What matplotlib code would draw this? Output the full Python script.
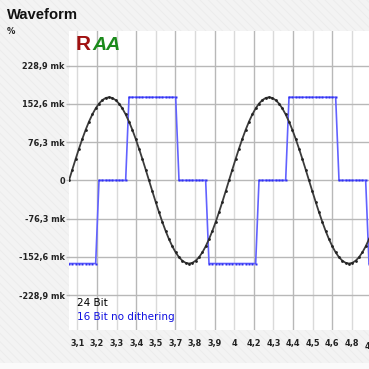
import numpy as np
import matplotlib
matplotlib.use("Agg")
from matplotlib import pyplot as plt
from matplotlib.patches import Rectangle

# sample data, 1 kHz tone sampled at 48 kHz, starting at 3.0 ms
t_start = 3.0
fs_khz = 48.0
wave_24bit = [
    0, 21.7, 43.0, 63.5, 83.0, 101.1, 117.4, 131.7, 143.8, 153.4, 160.3, 164.6,
    166.0, 164.6, 160.3, 153.4, 143.8, 131.7, 117.4, 101.1, 83.0, 63.5, 43.0, 21.7,
    0, -21.7, -43.0, -63.5, -83.0, -101.1, -117.4, -131.7, -143.8, -153.4, -160.3, -164.6,
    -166.0, -164.6, -160.3, -153.4, -143.8, -131.7, -117.4, -101.1, -83.0, -63.5, -43.0, -21.7,
    0, 21.7, 43.0, 63.5, 83.0, 101.1, 117.4, 131.7, 143.8, 153.4, 160.3, 164.6,
    166.0, 164.6, 160.3, 153.4, 143.8, 131.7, 117.4, 101.1, 83.0, 63.5, 43.0, 21.7,
    0, -21.7, -43.0, -63.5, -83.0, -101.1, -117.4, -131.7, -143.8, -153.4, -160.3, -164.6,
    -166.0, -164.6, -160.3, -153.4, -143.8, -131.7, -117.4, -101.1,
]
wave_16bit = [
    -166, -166, -166, -166, -166, -166, -166, -166, -166,
    0, 0, 0, 0, 0, 0, 0, 0, 0,
    166, 166, 166, 166, 166, 166, 166, 166, 166, 166, 166, 166, 166, 166, 166,
    0, 0, 0, 0, 0, 0, 0, 0, 0,
    -166, -166, -166, -166, -166, -166, -166, -166, -166, -166, -166, -166, -166, -166, -166,
    0, 0, 0, 0, 0, 0, 0, 0, 0,
    166, 166, 166, 166, 166, 166, 166, 166, 166, 166, 166, 166, 166, 166, 166,
    0, 0, 0, 0, 0, 0, 0, 0, 0,
    -166, -166,
]

y_ticks = [228.9, 152.6, 76.3, 0, -76.3, -152.6, -228.9]
y_labels = ["228,9 mk", "152,6 mk", "76,3 mk", "0", "-76,3 mk", "-152,6 mk", "-228,9 mk"]
x_labels = ["3,1", "3,2", "3,3", "3,4", "3,5", "3,7", "3,8", "3,9", "4",
            "4,2", "4,3", "4,4", "4,5", "4,6", "4,8", "4,9"]
x_tick0 = 3.053
x_step = 0.1225

t = t_start + np.arange(len(wave_24bit)) / fs_khz
x_ticks = x_tick0 + x_step * np.arange(len(x_labels))

W = H = 369
plt.rcParams['hatch.linewidth'] = 0.6
fig = plt.figure(figsize=(W / 100, H / 100), dpi=100)
fig.patch.set_facecolor('#f3f3f3')
fig.patches.append(Rectangle((0, 0), 1, 1, transform=fig.transFigure,
                             facecolor='#f3f3f3', edgecolor='#ebebeb',
                             hatch='\\\\\\\\', lw=0, zorder=-10))
fig.patches.append(Rectangle((0, 0), 1, 6 / H, transform=fig.transFigure,
                             facecolor='#fafafa', lw=0, zorder=-9))

ax = fig.add_axes([69 / W, (H - 330) / H, 300 / W, 299 / H])
ax.set_facecolor('white')
for s in ax.spines.values():
    s.set_visible(False)

ax.set_xlim(3.0, 4.875)
ax.set_ylim(-298.7, 298.3)

# grid: vertical lines alternate light / dark
for i, xt in enumerate(x_ticks):
    ax.axvline(xt, color='#dadada' if i % 2 == 0 else '#b8b8b8', lw=1, zorder=0)
for yt in y_ticks:
    ax.axhline(yt, color='#b8b8b8', lw=1, zorder=0)

ax.plot(t, wave_16bit, color='#6262ff', lw=1.2, zorder=2,
        marker='s', ms=1.6, mfc='#3030f0', mec='none')
ax.plot(t, wave_24bit, color='#3c3c3c', lw=1.3, zorder=3,
        marker='o', ms=2.0, mfc='#222222', mec='none')

tick_font = dict(family='DejaVu Sans', weight='bold', size=5.9)
ax.set_yticks(y_ticks)
ax.set_yticklabels(y_labels, color='#222222', **tick_font)
ax.tick_params(axis='y', length=2, width=1, color='#b8b8b8', pad=1)

vis = x_ticks <= 4.875
ax.set_xticks(x_ticks[vis])
ax.set_xticklabels([l for l, v in zip(x_labels, vis) if v], color='#222222', **tick_font)
ax.tick_params(axis='x', length=0, pad=6.5)
for xt, lab, v in zip(x_ticks, x_labels, vis):
    if not v:
        ax.text(xt, -0.04, lab, transform=ax.get_xaxis_transform(), ha='center', va='top',
                color='#222222', clip_on=False, **tick_font)

ax.text(0.027, 0.089, "24 Bit", transform=ax.transAxes, fontsize=7.5,
        color='black', va='center', ha='left')
ax.text(0.027, 0.042, "16 Bit no dithering", transform=ax.transAxes, fontsize=7.5,
        color='#1010e0', va='center', ha='left')

# logo
ax.text(76 / W, 1 - 50 / H, "R", transform=fig.transFigure, family='Liberation Sans',
        weight='bold', fontsize=15, color='#a01010', va='baseline', ha='left')
ax.text(92 / W, 1 - 50 / H, "AA", transform=fig.transFigure, family='Liberation Sans',
        weight='bold', fontsize=14, color='#1b8a1b', va='baseline', ha='left', style='italic')

fig.text(7 / W, 1 - 19 / H, "Waveform", family='Liberation Sans', weight='bold',
         fontsize=10.6, color='#111111', va='baseline', ha='left')
fig.text(7 / W, 1 - 31 / H, "%", family='DejaVu Sans', weight='bold',
         fontsize=6, color='#222222', va='center', ha='left')

fig.savefig("out.png", dpi=100, facecolor=fig.get_facecolor())
